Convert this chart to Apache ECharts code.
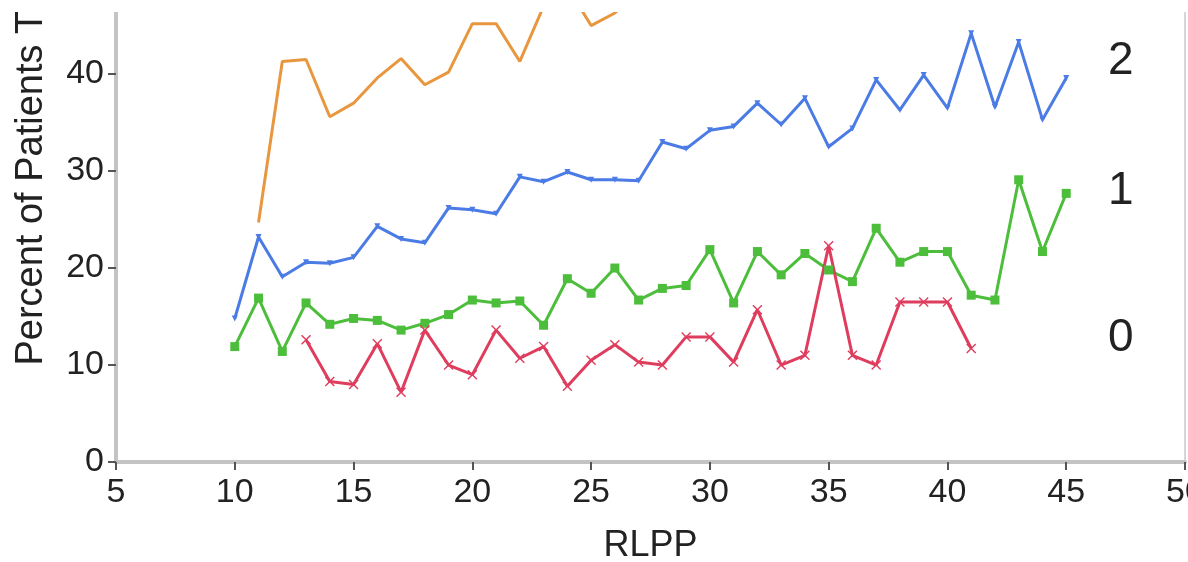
<!DOCTYPE html>
<html>
<head>
<meta charset="utf-8">
<script src="https://cdn.jsdelivr.net/npm/echarts@6/dist/echarts.min.js"></script>
<style>
  html, body { margin: 0; padding: 0; background: #fff; }
  #main { width: 1188px; height: 562px; }
</style>
</head>
<body>
<div id="main"></div>
<script>
// RLPP values on the x axis
const rlpp = [10, 11, 12, 13, 14, 15, 16, 17, 18, 19, 20, 21, 22, 23, 24, 25, 26, 27,
  28, 29, 30, 31, 32, 33, 34, 35, 36, 37, 38, 39, 40, 41, 42, 43, 44, 45];

// percent of patients, one array per group (null = no point)
const group3 = [null, 24.7, 41.3, 41.5, 35.6, 37.0, 39.6, 41.6, 38.9, 40.2, 45.2, 45.2, 41.3, 47.0, 49.0, 45.0, 46.3, 48.5,
  null, null, null, null, null, null, null, null, null, null, null, null, null, null, null, null, null, null];
const group2 = [14.8, 23.2, 19.1, 20.6, 20.5, 21.1, 24.3, 23.0, 22.6, 26.2, 26.0, 25.6, 29.4, 28.9, 29.9, 29.1, 29.1, 29.0,
  33.0, 32.3, 34.2, 34.6, 37.0, 34.8, 37.5, 32.5, 34.4, 39.4, 36.3, 39.9, 36.5, 44.2, 36.6, 43.3, 35.3, 39.6];
const group1 = [11.9, 16.9, 11.4, 16.4, 14.2, 14.8, 14.6, 13.6, 14.3, 15.2, 16.7, 16.4, 16.6, 14.1, 18.9, 17.4, 20.0, 16.7,
  17.9, 18.2, 21.9, 16.4, 21.7, 19.3, 21.5, 19.8, 18.6, 24.1, 20.6, 21.7, 21.7, 17.2, 16.7, 29.1, 21.7, 27.7];
const group0 = [null, null, null, 12.6, 8.3, 8.0, 12.2, 7.2, 13.6, 10.0, 9.0, 13.6, 10.7, 11.9, 7.8, 10.5, 12.1, 10.3,
  10.0, 12.9, 12.9, 10.3, 15.7, 10.0, 11.0, 22.3, 11.0, 10.0, 16.5, 16.5, 16.5, 11.7, null, null, null, null];

const yTicks = [0, 10, 20, 30, 40];

const pairs = vals => rlpp.map((x, i) => [x, vals[i]]);

const font = '"Liberation Sans", Arial, Helvetica, sans-serif';
const axisGray = '#c4c4c4';

const crossPath = 'path://M0,1L1,0L5,4L9,0L10,1L6,5L10,9L9,10L5,6L1,10L0,9L4,5Z';

var myChart = echarts.init(document.getElementById('main'));

const option = {
  animation: false,
  backgroundColor: '#fff',
  grid: { left: 116, right: 3, top: 12, bottom: 100, outerBoundsMode: 'none' },
  xAxis: {
    type: 'value',
    min: 5,
    max: 50,
    interval: 5,
    name: 'RLPP',
    nameLocation: 'middle',
    nameGap: 66,
    nameTextStyle: { fontFamily: font, fontSize: 36, color: '#222' },
    axisLine: { lineStyle: { color: axisGray, width: 4 } },
    axisTick: { show: true, length: 8, lineStyle: { color: '#555', width: 2 } },
    axisLabel: { fontFamily: font, fontSize: 34, color: '#222', margin: 14 },
    splitLine: { show: false }
  },
  yAxis: [{
    type: 'value',
    min: 0,
    max: 46.4,
    name: 'Percent of Patients Treated',
    nameLocation: 'middle',
    nameRotate: 90,
    nameGap: 65,
    nameTextStyle: { fontFamily: font, fontSize: 38, color: '#222', padding: [0, 0, 0, 204] },
    axisLine: { show: true, lineStyle: { color: axisGray, width: 4 } },
    axisTick: { show: true, length: 8, customValues: yTicks, lineStyle: { color: '#555', width: 2 } },
    axisLabel: { fontFamily: font, fontSize: 34, color: '#222', margin: 12, customValues: yTicks },
    splitLine: { show: false }
  }, {
    type: 'value',
    position: 'right',
    min: 0,
    max: 46.4,
    axisLine: { show: true, lineStyle: { color: '#d6d6d6', width: 2 } },
    axisTick: { show: false },
    axisLabel: { show: false },
    splitLine: { show: false }
  }],
  series: [
    {
      name: '3',
      type: 'line',
      data: pairs(group3),
      symbol: 'none',
      lineStyle: { color: '#e8973f', width: 3 },
      itemStyle: { color: '#e8973f' }
    },
    {
      name: '2',
      type: 'line',
      data: pairs(group2),
      symbol: 'triangle',
      symbolSize: 6,
      symbolRotate: 180,
      lineStyle: { color: '#4b7be5', width: 3 },
      itemStyle: { color: '#4b7be5' }
    },
    {
      name: '1',
      type: 'line',
      data: pairs(group1),
      symbol: 'rect',
      symbolSize: 9,
      lineStyle: { color: '#4dbe3c', width: 3 },
      itemStyle: { color: '#4dbe3c' }
    },
    {
      name: '0',
      type: 'line',
      data: pairs(group0),
      symbol: crossPath,
      symbolSize: 10,
      lineStyle: { color: '#df3d5e', width: 3 },
      itemStyle: { color: '#df3d5e' }
    }
  ],
  graphic: [
    // picture is cut off a little above the plot
    { type: 'rect', left: 0, top: 0, shape: { width: 1188, height: 12 }, style: { fill: '#fff' }, z: 100 },
    { type: 'text', left: 1108, top: 38, style: { text: '2', font: '46px ' + font, fill: '#222' } },
    { type: 'text', left: 1108, top: 168, style: { text: '1', font: '46px ' + font, fill: '#222' } },
    { type: 'text', left: 1108, top: 315, style: { text: '0', font: '46px ' + font, fill: '#222' } }
  ]
};

myChart.setOption(option);
</script>
</body>
</html>
